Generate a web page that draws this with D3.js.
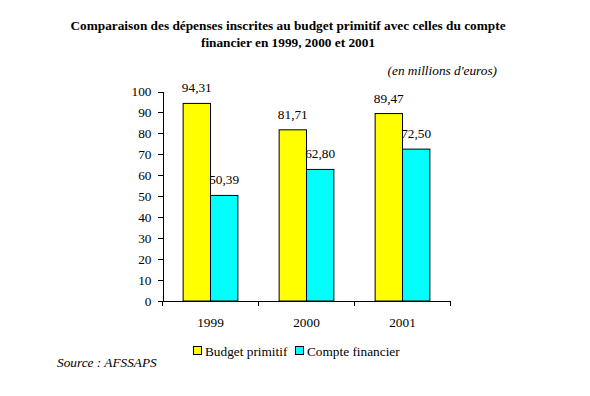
<!DOCTYPE html>
<html lang="fr">
<head>
<meta charset="utf-8">
<title>Comparaison des dépenses</title>
<style>
body { margin: 0; background: #fff; }
svg text { font-family: "Liberation Serif", "Times New Roman", serif; fill: #000; }
.axis path, .axis line { stroke: #000; shape-rendering: crispEdges; }
.axis text { font-size: 13.3px; font-family: "Liberation Serif", serif; }
</style>
</head>
<body>
<svg width="590" height="396"></svg>
<script src="https://d3js.org/d3.v7.min.js"></script>
<script>
var years = ["1999", "2000", "2001"];
var budget = [94.31, 81.71, 89.47];
var compte = [50.39, 62.80, 72.50];
var seriesNames = ["Budget primitif", "Compte financier"];
var colors = ["#ffff00", "#00ffff"];
var yTicks = [0, 10, 20, 30, 40, 50, 60, 70, 80, 90, 100];

var svg = d3.select("svg");
var plotLeft = 162.5, plotRight = 450.5, plotTop = 91.5, plotBottom = 301;

var x = d3.scaleBand().domain(years).range([plotLeft, plotRight])
    .paddingInner(0.43).paddingOuter(0.215);
var x1 = d3.scaleBand().domain([0, 1]).range([0, x.bandwidth()]);
var y = d3.scaleLinear().domain([0, 100]).range([plotBottom, plotTop]);

// title
var title = svg.append("text").attr("text-anchor", "middle")
    .style("font-size", "13.3px").style("font-weight", "bold");
title.append("tspan").attr("x", 288).attr("y", 30)
    .text("Comparaison des dépenses inscrites au budget primitif avec celles du compte");
title.append("tspan").attr("x", 288).attr("y", 47)
    .text("financier en 1999, 2000 et 2001");

svg.append("text").attr("x", 497).attr("y", 75).attr("text-anchor", "end")
    .style("font-size", "13.3px").style("font-style", "italic")
    .text("(en millions d'euros)");

// y axis
svg.append("g").attr("class", "axis")
    .attr("transform", "translate(" + plotLeft + ",0)")
    .call(d3.axisLeft(y).tickValues(yTicks).tickSizeOuter(0).tickSize(5).tickPadding(6));

// x axis with ticks at the category boundaries
var xg = svg.append("g").attr("class", "axis")
    .attr("transform", "translate(0," + plotBottom + ")");
xg.append("line").attr("x1", plotLeft).attr("x2", plotRight).attr("y1", 0).attr("y2", 0);
var bounds = years.map(function(d) { return x(d) - x.step() * x.paddingInner() / 2; })
    .concat([plotRight]);
bounds[0] = plotLeft;
xg.selectAll(".bt").data(bounds).enter().append("line")
    .attr("x1", function(d) { return d; }).attr("x2", function(d) { return d; })
    .attr("y1", 0).attr("y2", 5);
xg.selectAll(".lbl").data(years).enter().append("text")
    .attr("x", function(d) { return x(d) + x.bandwidth() / 2; })
    .attr("y", 26).attr("text-anchor", "middle")
    .text(function(d) { return d; });

// bars
var series = [budget, compte];
series.forEach(function(vals, s) {
  var g = svg.append("g");
  g.selectAll("rect").data(vals).enter().append("rect")
      .attr("x", function(d, i) { return x(years[i]) + x1(s); })
      .attr("y", function(d) { return y(d); })
      .attr("width", x1.bandwidth())
      .attr("height", function(d) { return y(0) - y(d); })
      .attr("fill", colors[s]).attr("stroke", "#000").attr("stroke-width", 1);
  g.selectAll("text").data(vals).enter().append("text")
      .attr("x", function(d, i) { return x(years[i]) + x1(s) + x1.bandwidth() / 2; })
      .attr("y", function(d) { return y(d) - 11; })
      .attr("text-anchor", "middle").style("font-size", "13.3px")
      .text(function(d) { return d.toFixed(2).replace(".", ","); });
});

// legend
var legendX = [193, 295];
seriesNames.forEach(function(name, s) {
  svg.append("rect").attr("x", legendX[s] + 0.5).attr("y", 346.5)
      .attr("width", 8).attr("height", 8)
      .attr("fill", colors[s]).attr("stroke", "#000");
  svg.append("text").attr("x", legendX[s] + 12).attr("y", 356)
      .style("font-size", "13.3px").text(name);
});

svg.append("text").attr("x", 57).attr("y", 367)
    .style("font-size", "13.3px").style("font-style", "italic")
    .text("Source : AFSSAPS");
</script>
</body>
</html>
